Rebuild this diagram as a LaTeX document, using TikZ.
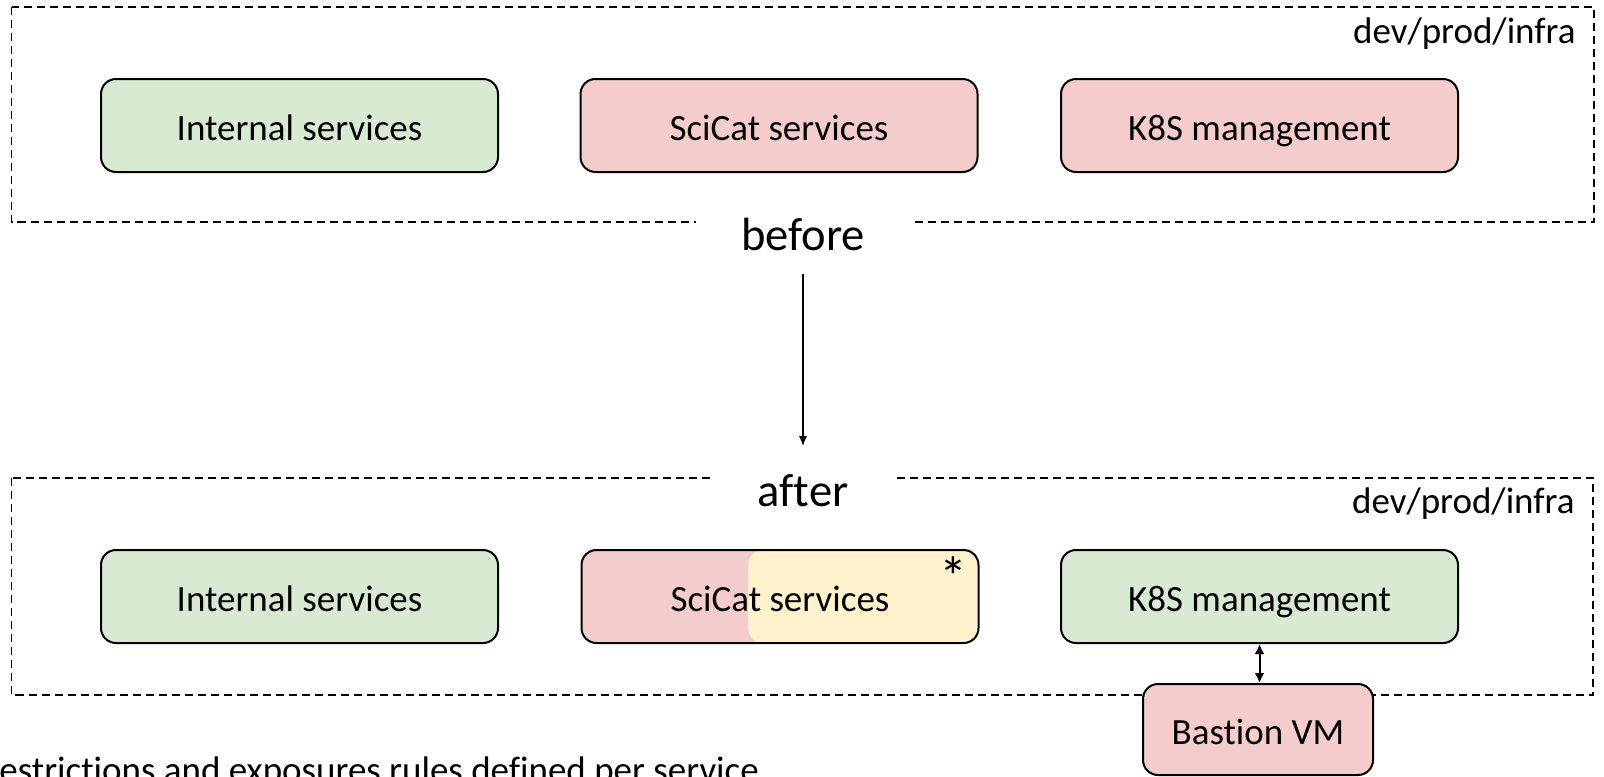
\documentclass[tikz,border=0pt]{standalone}
\usepackage{fontspec}
\setmainfont{Carlito}[Ligatures=NoCommon]
\usetikzlibrary{arrows.meta}

\definecolor{greenfill}{HTML}{D9EAD3}
\definecolor{redfill}{HTML}{F4CCCC}
\definecolor{yellowfill}{HTML}{FFF2CC}

\begin{document}
\begin{tikzpicture}[
  x=0.5pt, y=-0.5pt,
  every node/.style={align=center, font=\fontsize{18.5}{22}\selectfont},
  service/.style={draw, line width=1pt, rounded corners=7.5pt, minimum width=198.5pt, minimum height=46.5pt, inner sep=0, text height=14.8pt, text depth=0pt},
  okbox/.style={service, fill=greenfill},
  riskbox/.style={service, fill=redfill},
  zone/.style={draw, line width=0.9pt, dash pattern=on 4pt off 2.5pt},
  stage/.style={fill=white, inner xsep=22.5pt, inner ysep=2pt, font=\fontsize{23.3}{28}\selectfont},
  flow/.style={-{Latex[length=5pt, width=4pt]}, line width=0.75pt},
  both/.style={{Latex[length=5pt, width=5pt]}-{Latex[length=5pt, width=5pt]}, line width=1pt}]

  % Fix the page to the reference frame
  \clip (0,0) rectangle (1604,776);

  % before: the environment zone and its services
  \draw[zone] (11.5,7) rectangle (1594,222);
  \node[anchor=base east, inner sep=0] (envA) at (1576,43) {dev/prod/infra};
  \node[okbox] (intA) at (299.5,125.5) {Internal services};
  \node[riskbox] (scicatA) at (779,125.5) {SciCat services};
  \node[riskbox] (k8sA) at (1259.5,125.5) {K8S management};
  \node[stage, anchor=base] (before) at (803,250) {before};

  % after: the same zone, with the bastion in front of it
  \draw[zone] (11.5,478) rectangle (1593,695);
  \node[anchor=base east, inner sep=0] (envB) at (1575,513) {dev/prod/infra};
  \node[stage, anchor=base] (after) at (803,506) {after};
  \node[okbox] (intB) at (299.5,596.5) {Internal services};
  \node[riskbox, path picture={
      \fill[yellowfill, rounded corners=7.5pt] ([xshift=-16pt]path picture bounding box.south) rectangle (path picture bounding box.north east);
    }] (scicatB) at (780,596.5) {SciCat services};
  \node[anchor=base, font=\fontsize{28}{32}\selectfont] (star) at (953,596) {*};
  \node[okbox] (k8sB) at (1259.5,596.5) {K8S management};
  \node[riskbox, minimum width=115pt, minimum height=45.5pt] (bastion) at (1258,729.5) {Bastion VM};

  % Draw the arrows between the nodes
  \draw[flow, shorten <=9.5pt, shorten >=11.75pt] (before.south) -- (after.north);
  \draw[both] (k8sB.south) -- (k8sB.south |- bastion.north);

  \node[anchor=base west, inner sep=0] (note) at (-1,782) {estrictions and exposures rules defined per service};

\end{tikzpicture}
\end{document}
